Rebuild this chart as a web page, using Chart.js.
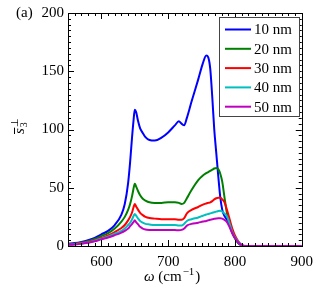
<!DOCTYPE html>
<html>
<head>
<meta charset="utf-8">
<script src="https://cdn.jsdelivr.net/npm/chart.js@4"></script>
<style>
  html, body { margin: 0; padding: 0; background: #fff; }
  #wrap { width: 320px; height: 290px; }
</style>
</head>
<body>
<div id="wrap"><canvas id="myChart" width="320" height="290"></canvas></div>
<script>
const omega = [550, 560, 570, 580, 590, 600, 610, 620, 630, 635, 640, 643, 646, 648, 650, 652, 655, 658, 662, 666,
  672, 680, 690, 700, 710, 716, 720, 724, 728, 735, 745, 752, 757, 760, 763, 766, 769, 772, 775, 778,
  781, 784, 788, 792, 796, 800, 805, 810, 815, 830, 900];

const s10 = [2, 2.5, 3.5, 5, 7, 10, 13, 18, 27, 36, 54, 72, 94, 107, 117, 115, 107, 101, 97, 93.5,
  91, 90.5, 93, 97.5, 103.5, 107, 105, 103.6, 110, 124, 143, 157, 163.5, 162, 152, 128, 100, 80, 60, 42,
  31, 26, 22.5, 18, 12, 7, 2.5, 0.5, 0, 0, 0];
const s20 = [1.5, 2, 3, 4, 6, 8.5, 11, 15, 21, 25, 31, 36, 43, 49, 53.5, 51, 47, 43.5, 40.5, 39,
  37.5, 37, 37, 37.5, 37.5, 37, 36, 37, 41, 48, 56.5, 60.5, 62.5, 63.5, 64.5, 65.5, 66.5, 67, 66, 62,
  55, 43, 28, 18, 11, 6.5, 2.5, 0.5, 0, 0, 0];
const s30 = [1.2, 1.8, 2.5, 3.5, 5, 7, 9, 12, 15.5, 18, 22, 25, 29, 33, 36, 34, 31, 28.5, 26.5, 25,
  24, 23.5, 23, 23, 23, 22.5, 22.5, 24, 28, 31, 33.5, 35.5, 36.5, 37, 37.5, 38.5, 40, 41, 41.5, 41.5,
  40, 38, 31, 23, 15, 9, 4, 1, 0, 0, 0];
const s40 = [1, 1.5, 2.2, 3, 4.5, 6.3, 8, 10.5, 13, 15, 18, 20, 23, 25.5, 27.5, 26, 23.5, 21.5, 20, 19,
  18.5, 18, 18, 18, 18, 17.5, 17.5, 19, 21.5, 23, 24.5, 26, 27, 27.5, 28, 28.5, 29, 29.5, 30, 30.3,
  29.5, 28, 25.5, 19, 12, 7.5, 3.5, 1, 0, 0, 0];
const s50 = [1, 1.3, 2, 2.8, 4, 5.8, 7.3, 9.3, 11.5, 13, 15, 17, 19, 20.5, 22, 20.5, 18.5, 16.5, 15, 14.2,
  13.8, 13.7, 13.7, 13.7, 13.7, 13.5, 13.8, 15, 17.5, 19, 20, 21, 21.5, 22, 22.5, 23, 23.3, 23.6, 23.8, 23.8,
  23.5, 22.5, 20.5, 16, 11, 6.8, 3, 0.8, 0, 0, 0];

const labels = ["10 nm", "20 nm", "30 nm", "40 nm", "50 nm"];
const colors = ["#0000ff", "#008000", "#ff0000", "#00bfbf", "#bf00bf"];
const series = [s10, s20, s30, s40, s50];
const xTicks = [600, 700, 800, 900];
const yTicks = [0, 50, 100, 150, 200];

const FONT = "Liberation Serif";

const datasets = series.map(function (s, i) {
  return {
    label: labels[i],
    data: omega.map(function (w, k) { return { x: w, y: s[k] }; }),
    borderColor: colors[i],
    borderWidth: 2,
    pointRadius: 0,
    fill: false,
    cubicInterpolationMode: "monotone",
    order: 5 - i,
  };
});

// frame, inward ticks, legend and labels
const decor = {
  id: "decor",
  afterDraw(chart) {
    const c = chart.ctx;
    const a = chart.chartArea;
    const xs = chart.scales.x;
    const ys = chart.scales.y;
    c.save();
    c.strokeStyle = "#000";
    c.lineWidth = 1;
    c.beginPath();
    for (let v = 550; v <= 900; v += 10) {
      const px = Math.round(xs.getPixelForValue(v)) + 0.5;
      const len = v % 100 === 0 ? 6 : 3;
      c.moveTo(px, a.bottom); c.lineTo(px, a.bottom - len);
      c.moveTo(px, a.top); c.lineTo(px, a.top + len);
    }
    for (let v = 0; v <= 200; v += 5) {
      const py = Math.round(ys.getPixelForValue(v)) + 0.5;
      const len = v % 50 === 0 ? 6 : 3;
      c.moveTo(a.left, py); c.lineTo(a.left + len, py);
      c.moveTo(a.right, py); c.lineTo(a.right - len, py);
    }
    c.stroke();
    c.strokeRect(Math.round(a.left) + 0.5, Math.round(a.top) + 0.5,
      Math.round(a.right - a.left), Math.round(a.bottom - a.top));

    // legend
    const lx = 219.5, ly = 17.5, lw = 80, lh = 99;
    c.fillStyle = "#fff";
    c.fillRect(lx, ly, lw, lh);
    c.strokeStyle = "#444";
    c.strokeRect(lx, ly, lw, lh);
    c.font = "15px '" + FONT + "'";
    c.textBaseline = "middle";
    c.textAlign = "left";
    chart.data.datasets.forEach(function (d, i) {
      const y = 29.5 + i * 19.3;
      c.strokeStyle = d.borderColor;
      c.lineWidth = 2;
      c.beginPath();
      c.moveTo(225, y); c.lineTo(251, y);
      c.stroke();
      c.fillStyle = "#000";
      c.fillText(d.label, 254, y + 1);
    });

    // panel tag
    c.fillStyle = "#000";
    c.textBaseline = "middle";
    c.font = "15px '" + FONT + "'";
    c.fillText("(a)", 16, 13);

    // x title: ω (cm^-1)
    let x0 = 144;
    const yb = 277;
    c.textBaseline = "middle";
    c.font = "italic 15px '" + FONT + "'";
    c.fillText("ω", x0, yb);
    x0 += c.measureText("ω ").width;
    c.font = "15px '" + FONT + "'";
    c.fillText("(cm", x0, yb);
    x0 += c.measureText("(cm").width;
    c.font = "11px '" + FONT + "'";
    c.fillText("−1", x0 + 1, yb - 5);
    x0 += c.measureText("−1").width + 2;
    c.font = "15px '" + FONT + "'";
    c.fillText(")", x0, yb);

    // y title: s-bar with ⊥ and 3
    c.translate(24, 134);
    c.rotate(-Math.PI / 2);
    c.font = "italic 15px '" + FONT + "'";
    c.textBaseline = "alphabetic";
    c.fillText("s", 0, 0);
    const sw = c.measureText("s").width;
    c.lineWidth = 1;
    c.strokeStyle = "#000";
    c.beginPath();
    c.moveTo(0, -9.5); c.lineTo(sw + 0.5, -9.5);
    c.stroke();
    c.font = "10px '" + FONT + "'";
    c.fillText("⊥", sw + 1, -6);
    c.fillText("3", sw + 1, 3);
    c.restore();
  },
};

const ctx = document.getElementById("myChart").getContext("2d");

const myChart = new Chart(ctx, {
  type: "line",
  data: { datasets: datasets },
  options: {
    responsive: false,
    animation: false,
    events: [],
    layout: { padding: { left: 0, right: 18, top: 12, bottom: 0 } },
    plugins: {
      legend: { display: false },
      tooltip: { enabled: false },
    },
    scales: {
      x: {
        type: "linear",
        min: 550,
        max: 900,
        grid: { display: false, drawTicks: false },
        border: { display: false },
        afterBuildTicks: function (scale) {
          scale.ticks = xTicks.map(function (v) { return { value: v }; });
        },
        afterFit: function (scale) { scale.height = 44; },
        ticks: {
          padding: 7,
          color: "#000",
          maxRotation: 0,
          font: { family: FONT, size: 15 },
        },
      },
      y: {
        min: 0,
        max: 200,
        grid: { display: false, drawTicks: false },
        border: { display: false },
        afterBuildTicks: function (scale) {
          scale.ticks = yTicks.map(function (v) { return { value: v }; });
        },
        afterFit: function (scale) { scale.width = 68; },
        ticks: {
          padding: 4,
          color: "#000",
          font: { family: FONT, size: 15 },
        },
      },
    },
  },
  plugins: [decor],
});
</script>
</body>
</html>
